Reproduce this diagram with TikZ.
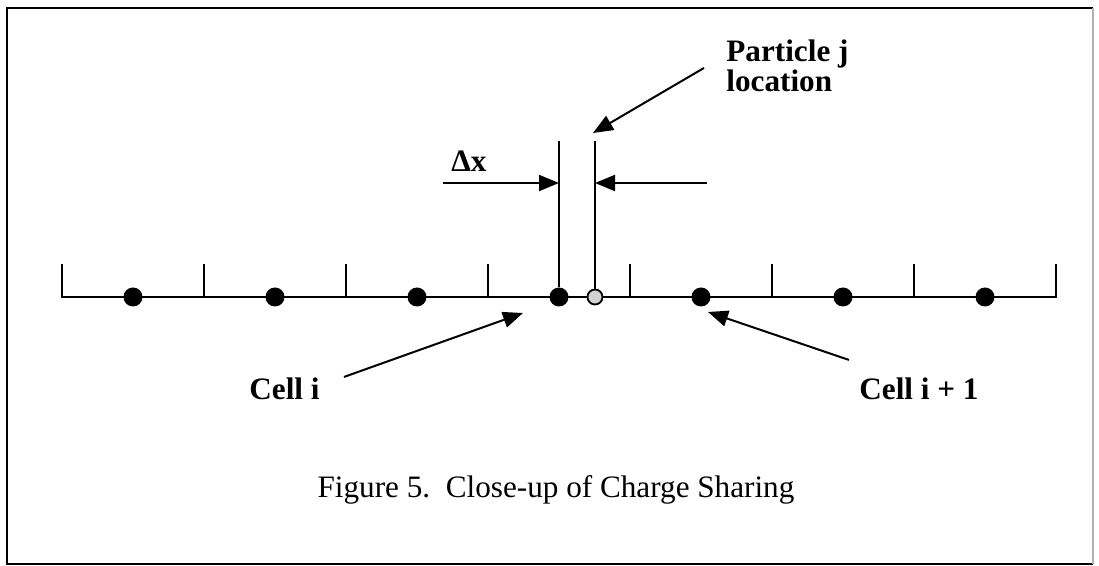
\documentclass[tikz,border=0pt]{standalone}
\usepackage{fontspec}
\setmainfont{Liberation Serif}
\usetikzlibrary{positioning, calc, arrows.meta}
\tikzset{
    cellaxis/.style={line width=1.2pt, black},
    celltick/.style={line width=0.8pt, black},
    guide/.style={line width=0.8pt, black},
    chargedot/.style={circle, fill=black, inner sep=0pt, minimum size=9.5pt},
    particledot/.style={circle, draw=black, fill=gray!35, line width=0.9pt, inner sep=0pt, minimum size=7.5pt},
    boldtext/.style={font=\fontsize{15.6}{15}\selectfont\bfseries, inner sep=2pt, align=left},
    captiontext/.style={font=\fontsize{15.6}{18}\selectfont, inner sep=0pt},
    pointer/.style={-{Triangle[length=10pt, width=8pt]}, line width=1pt, black},
}

\begin{document}
\begin{tikzpicture}[x=0.5pt, y=-0.5pt]
    \useasboundingbox (0,0) rectangle (1099,566);
    % Frame
    \draw[line width=1pt] (1093,8) -- (7,8) -- (7,564) -- (1093,564);
    \draw[gray!60, line width=0.6pt] (1093,8) -- (1093,564);

    % Cells
    \draw[cellaxis] (62,264) -- (62,297) -- (1056,297) -- (1056,264);
    \foreach \k in {1,...,6}
        \draw[celltick] (62+142*\k,264) -- ++(0,33);
    \foreach \k in {1,...,7}
        \node[chargedot] (c\k) at (-9+142*\k,297) {};
    \node[particledot] (pj) at (595,297) {};

    % Delta x
    \coordinate (gl) at (559,141);
    \coordinate (gr) at (595,141);
    \draw[guide] (c4) -- (gl);
    \draw[guide] (pj) -- (gr);
    \coordinate (dxl) at (443,183);
    \coordinate (dxr) at (707,183);
    \draw[pointer] (dxl) -- (gl |- dxl);
    \draw[pointer] (dxr) -- (gr |- dxr);
    \node[boldtext, inner sep=0pt, anchor=base west] (dx) at (451,172) {Δx};

    % Labels
    \node[boldtext, anchor=base west] (particle) at (722,92) {Particle j\\[0pt]location};
    \node[boldtext, anchor=base west] (celli) at (245,400) {Cell i};
    \node[boldtext, anchor=base west] (cellip) at (855,400) {Cell i + 1};
    \draw[pointer] ([shift={(-18,32)}]particle.north west) -- ([shift={(-2,-8)}]gr);
    \draw[pointer] ([shift={(20,3)}]celli.north east) -- ([shift={(-36,16)}]c4.center);
    \draw[pointer] ([shift={(-6,-14)}]cellip.north west) -- ([shift={(7,15)}]c5.center);

    \node[captiontext, anchor=base] (caption) at (556,498) {Figure 5.\ \ Close-up of Charge Sharing};
\end{tikzpicture}
\end{document}
